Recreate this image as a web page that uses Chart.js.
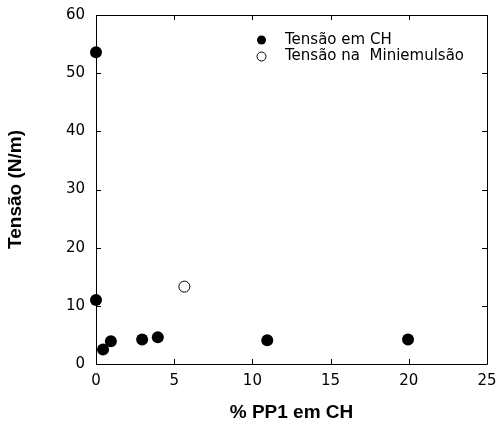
<!DOCTYPE html>
<html>
<head>
<meta charset="utf-8">
<script src="https://cdn.jsdelivr.net/npm/chart.js@4.4.0/dist/chart.umd.min.js"></script>
<style>
  body { margin: 0; background: #fff; }
</style>
</head>
<body>
<canvas id="chart" width="496" height="422"></canvas>
<script>
// data
const chX = [0, 0, 0.45, 0.95, 2.95, 3.95, 10.95, 19.95]
const chY = [53.6, 11, 2.5, 3.9, 4.2, 4.6, 4.1, 4.2]
const miniX = [5.65]
const miniY = [13.3]

const xTicks = [0, 5, 10, 15, 20, 25]
const yTicks = [0, 10, 20, 30, 40, 50, 60]
const legendLabels = ["Tensão em CH", "Tensão na  Miniemulsão"]

const tickFont = { family: "DejaVu Sans", size: 15 }
const titleFont = { family: "Liberation Sans", size: 19, weight: "bold", lineHeight: 1 }

function toPoints(xs, ys) {
  return xs.map(function (x, i) { return { x: x, y: ys[i] } })
}

// box frame and inward ticks on all four sides
const framePlugin = {
  id: "frame",
  beforeDatasetsDraw(chart) {
    const ctx = chart.ctx
    const a = chart.chartArea
    const xs = chart.scales.x
    const ys = chart.scales.y
    const len = 5
    ctx.save()
    ctx.strokeStyle = "#000"
    ctx.lineWidth = 1
    ctx.beginPath()
    ctx.rect(Math.round(a.left) + 0.5, Math.round(a.top) + 0.5, Math.round(a.right - a.left), Math.round(a.bottom - a.top))
    xTicks.forEach(function (v) {
      let px = Math.round(xs.getPixelForValue(v)) + 0.5
      ctx.moveTo(px, a.bottom)
      ctx.lineTo(px, a.bottom - len)
      ctx.moveTo(px, a.top)
      ctx.lineTo(px, a.top + len)
    })
    yTicks.forEach(function (v) {
      let py = Math.round(ys.getPixelForValue(v)) + 0.5
      ctx.moveTo(a.left, py)
      ctx.lineTo(a.left + len, py)
      ctx.moveTo(a.right, py)
      ctx.lineTo(a.right - len, py)
    })
    ctx.stroke()
    ctx.restore()
  },
}

// legend inside the plot, top right
const legendPlugin = {
  id: "insideLegend",
  afterDraw(chart) {
    const ctx = chart.ctx
    const mx = 261.5
    const rows = [40, 56.5]
    ctx.save()
    ctx.font = "15px 'DejaVu Sans'"
    ctx.fillStyle = "#000"
    ctx.textBaseline = "middle"
    legendLabels.forEach(function (label, i) {
      ctx.beginPath()
      ctx.arc(mx, rows[i], 4.5, 0, Math.PI * 2)
      if (i === 0) {
        ctx.fill()
      } else {
        ctx.fillStyle = "#fff"
        ctx.fill()
        ctx.lineWidth = 1
        ctx.strokeStyle = "#000"
        ctx.stroke()
        ctx.fillStyle = "#000"
      }
      ctx.fillText(label, 285, rows[i])
    })
    ctx.restore()
  },
}

let ctx = document.getElementById("chart").getContext("2d")
let chart = new Chart(ctx, {
  type: "scatter",
  data: {
    datasets: [
      {
        label: legendLabels[0],
        data: toPoints(chX, chY),
        pointRadius: 6,
        pointHoverRadius: 6,
        backgroundColor: "#000",
        borderColor: "#000",
        borderWidth: 0,
        clip: false,
      },
      {
        label: legendLabels[1],
        data: toPoints(miniX, miniY),
        pointRadius: 5.5,
        pointHoverRadius: 5.5,
        backgroundColor: "#fff",
        borderColor: "#000",
        borderWidth: 1,
        clip: false,
      },
    ],
  },
  options: {
    responsive: false,
    animation: false,
    events: [],
    layout: { padding: { top: 15, right: 9, left: 0, bottom: 0 } },
    plugins: {
      legend: { display: false },
      tooltip: { enabled: false },
    },
    scales: {
      x: {
        type: "linear",
        min: 0,
        max: 25,
        afterBuildTicks: function (scale) {
          scale.ticks = xTicks.map(function (v) { return { value: v } })
        },
        afterFit: function (scale) {
          scale.height = 58
          scale.paddingLeft = 0
          scale.paddingRight = 0
        },
        grid: { display: true, drawOnChartArea: false, drawTicks: false },
        border: { display: false },
        ticks: { color: "#000", font: tickFont, padding: 8, maxRotation: 0 },
        title: { display: true, text: "% PP1 em CH", color: "#000", font: titleFont, padding: { top: 0, bottom: 0 } },
      },
      y: {
        type: "linear",
        min: 0,
        max: 60,
        afterBuildTicks: function (scale) {
          scale.ticks = yTicks.map(function (v) { return { value: v } })
        },
        afterFit: function (scale) {
          scale.width = 96
          scale.paddingTop = 0
          scale.paddingBottom = 0
        },
        grid: { display: true, drawOnChartArea: false, drawTicks: false },
        border: { display: false },
        ticks: { color: "#000", font: tickFont, padding: 11 },
        title: { display: true, text: "Tensão (N/m)", color: "#000", font: titleFont, padding: { top: 6, bottom: 0 } },
      },
    },
  },
  plugins: [framePlugin, legendPlugin],
})
</script>
</body>
</html>
